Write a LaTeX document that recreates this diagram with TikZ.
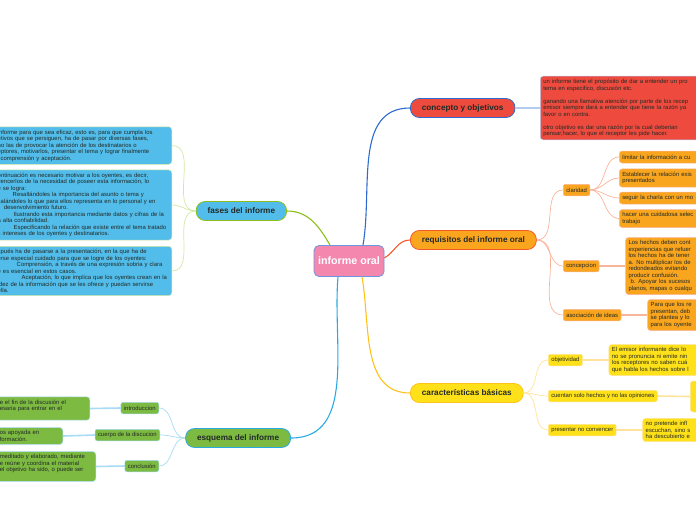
\documentclass[tikz,border=0pt]{standalone}
\usepackage{fontspec}
\setmainfont{Liberation Sans}
\usetikzlibrary{positioning}
\definecolor{mapink}{HTML}{F387AE}
\definecolor{mapred}{HTML}{EE4B3E}
\definecolor{maporange}{HTML}{F9A51E}
\definecolor{mapyellow}{HTML}{FFE119}
\definecolor{mapsky}{HTML}{52BDEA}
\definecolor{mapgreen}{HTML}{7DBA42}
\definecolor{mapblue}{HTML}{2E6BD0}
\definecolor{mapvermil}{HTML}{F4592A}
\definecolor{mapgold}{HTML}{FFC21A}
\definecolor{maplime}{HTML}{8CBF1A}
\definecolor{mapcyan}{HTML}{2AAAE2}
\definecolor{maptext}{HTML}{222A26}
\definecolor{lnblue}{HTML}{B3CCEE}
\definecolor{lnsalmon}{HTML}{F9B49C}
\definecolor{lnyellow}{HTML}{FFE39A}
\definecolor{lnlime}{HTML}{D3E8A5}
\definecolor{lncyan}{HTML}{A6DCF4}
\tikzset{
  font=\fontsize{5.9}{6.5}\selectfont,
  root/.style={draw=mapblue!70,line width=0.8pt,fill=mapink,rounded corners=5pt,
               minimum width=70pt,minimum height=31pt,text=white,
               font=\fontsize{10.7}{12}\selectfont\bfseries},
  topic/.style={line width=0.8pt,rounded corners=9pt,minimum height=19pt,
                inner xsep=11.5pt,text=maptext,font=\fontsize{8.2}{9}\selectfont\bfseries},
  sub/.style={line width=0.5pt,rounded corners=2pt,minimum height=11.5pt,
              inner xsep=3pt,inner ysep=2pt,text=maptext},
  leaf/.style={line width=0.5pt,rounded corners=3pt,inner sep=3pt,align=left,
               text=maptext},
  branch/.style={line width=1.1pt},
  twig/.style={line width=0.7pt},
  stem/.style={line width=1.6pt},
}

\begin{document}
\begin{tikzpicture}[x=1pt,y=1pt,node distance=26pt]
  \useasboundingbox (0,0) rectangle (696,-520);
  \clip (0,0) rectangle (696,-520);

  % ---- central topic ----
  \node[root] (oral) at (349,-261) {informe oral};

  % ---- main topics ----
  \node[topic,draw=mapblue,fill=mapred,anchor=west] (concepto) at (410,-108)
    {concepto y objetivos};
  \node[topic,draw=mapvermil,fill=maporange,anchor=west] (requisitos) at (410,-240)
    {requisitos del informe oral};
  \node[topic,draw=mapgold,fill=mapyellow,anchor=west] (caract) at (410,-393)
    {características básicas};
  \node[topic,draw=maplime,fill=mapsky,anchor=east] (fases) at (287,-211)
    {fases del informe};
  \node[topic,draw=mapcyan,fill=mapgreen,anchor=east] (esquema) at (291,-438)
    {esquema del informe};

  \draw[branch,mapblue] ([xshift=14pt]oral.north) to[out=80,in=180] (concepto.west);
  \draw[branch,mapvermil] ([yshift=3pt]oral.east) to[out=30,in=180] (requisitos.west);
  \draw[branch,mapgold] ([xshift=13pt]oral.south) to[out=-80,in=180] (caract.west);
  \draw[branch,maplime] ([xshift=-19pt]oral.north) to[out=120,in=0] (fases.east);
  \draw[branch,mapcyan] ([xshift=-11pt]oral.south) to[out=-95,in=0] (esquema.east);

  % ---- concepto y objetivos ----
  \node[leaf,draw=lnblue,fill=mapred,text width=170pt,anchor=west] (objtxt) at (540,-108)
    {un informe tiene el propósito de dar a entender un pro\\
     tema en especifico, discusión etc.\\[6.5pt]
     ganando una llamativa atención por parte de los recep\\
     emisor siempre dará a entender que tiene la razón ya\\
     favor o en contra.\\[6.5pt]
     otro objetivo es dar una razón por la cual deberian\\
     pensar,hacer, lo que el receptor les pide hacer.};
  \draw[stem,lnblue] (concepto.east) -- (objtxt.west);

  % ---- requisitos ----
  \node[sub,draw=lnsalmon,fill=maporange,anchor=west] (claridad) at (563,-190) {claridad};
  \node[sub,draw=lnsalmon,fill=maporange,anchor=west] (concepcion) at (563,-266) {concepcion};
  \node[sub,draw=lnsalmon,fill=maporange,anchor=west] (asociacion) at (563,-315) {asociación de ideas};
  \draw[twig,lnsalmon] (requisitos.east) to[out=0,in=180] (claridad.west);
  \draw[twig,lnsalmon] (requisitos.east) to[out=0,in=180] (concepcion.west);
  \draw[twig,lnsalmon] (requisitos.east) to[out=0,in=180] (asociacion.west);

  \node[leaf,draw=lnsalmon,fill=maporange,text width=90pt,minimum height=12pt,anchor=west]
    (clarA) at (619,-157) {limitar la información a cu};
  \node[leaf,draw=lnsalmon,fill=maporange,text width=90pt,anchor=west]
    (clarB) at (619,-178) {Establecer la relación exis\\presentados};
  \node[leaf,draw=lnsalmon,fill=maporange,text width=90pt,minimum height=12pt,anchor=west]
    (clarC) at (619,-198) {seguir la charla con un mo};
  \node[leaf,draw=lnsalmon,fill=maporange,text width=90pt,anchor=west]
    (clarD) at (619,-218.5) {hacer una cuidadosa selec\\trabajo};
  \draw[twig,lnsalmon] (claridad.east) to[out=0,in=180] (clarA.west);
  \draw[twig,lnsalmon] (claridad.east) to[out=0,in=180] (clarB.west);
  \draw[twig,lnsalmon] (claridad.east) to[out=0,in=180] (clarC.west);
  \draw[twig,lnsalmon] (claridad.east) to[out=0,in=180] (clarD.west);

  \node[leaf,draw=lnsalmon,fill=maporange,text width=80pt,right=of concepcion] (conctxt)
    {Los hechos deben cont\\experiencias que refuer\\los hechos ha de tener\\
     a. No multiplicar los de\\redondeados evitando\\producir confusión.\\
     \hspace*{2pt}b. Apoyar los sucesos\\planos, mapas o cualqu};
  \draw[stem,lnsalmon] (concepcion.east) -- (conctxt.west);
  \node[leaf,draw=lnsalmon,fill=maporange,text width=60pt,right=of asociacion] (asoctxt)
    {Para que los re\\presentan, deb\\se plantea y lo\\para los oyente};
  \draw[stem,lnsalmon] (asociacion.east) -- (asoctxt.west);

  % ---- caracteristicas ----
  \node[sub,draw=lnyellow,fill=mapyellow,anchor=west] (objetividad) at (548,-360) {objetividad};
  \node[sub,draw=lnyellow,fill=mapyellow,anchor=west] (hechos) at (548,-396)
    {cuentan solo hechos y no las opiniones};
  \node[sub,draw=lnyellow,fill=mapyellow,anchor=west] (convencer) at (548,-430)
    {presentar no convencer};
  \draw[twig,lnyellow] (caract.east) to[out=0,in=180] (objetividad.west);
  \draw[twig,lnyellow] (caract.east) to[out=0,in=180] (hechos.west);
  \draw[twig,lnyellow] (caract.east) to[out=0,in=180] (convencer.west);

  \node[leaf,draw=lnyellow,fill=mapyellow,text width=95pt,right=of objetividad] (objtvtxt)
    {El emisor informante dice lo\\no se pronuncia ni emite nin\\
     los receptores no saben cuá\\que habla los hechos sobre l};
  \draw[stem,lnyellow] (objetividad.east) -- (objtvtxt.west);
  \node[leaf,draw=lnyellow,fill=mapyellow,minimum width=40pt,minimum height=31pt,
        anchor=west] (hechtxt) at (690,-396.5) {};
  \draw[stem,lnyellow] (hechos.east) -- (hechtxt.west);
  \node[leaf,draw=lnyellow,fill=mapyellow,text width=60pt,right=of convencer] (convtxt)
    {no pretende infl\\escuchan, sino s\\ha descubierto e};
  \draw[stem,lnyellow] (convencer.east) -- (convtxt.west);

  % ---- fases del informe ----
  \node[leaf,draw=lnlime,fill=mapsky,text width=171pt,anchor=east] (faseA) at (172,-145.5)
    {informe para que sea eficaz, esto es, para que cumpla los\\
     etivos que se persiguen, ha de pasar por diversas fases,\\
     no las de provocar la atención de los destinatarios o\\
     eptores, motivarlos, presentar el tema y lograr finalmente\\
     \hspace*{3pt}comprensión y aceptación.};
  \node[leaf,draw=lnlime,fill=mapsky,text width=171pt,anchor=east] (faseB) at (172,-205)
    {ontinuación es necesario motivar a los oyentes, es decir,\\
     vencerlos de la necesidad de poseer esta información, lo\\
     e se logra:\\
     \hspace*{15pt}Resaltándoles la importancia del asunto o tema y\\
     salándoles lo que para ellos representa en lo personal y en\\
     \hspace*{6pt}desenvolvimiento futuro.\\
     \hspace*{16pt}Ilustrando esta importancia mediante datos y cifras de la\\
     a alta confiabilidad.\\
     \hspace*{16pt}Especificando la relación que existe entre el tema tratado\\
     s intereses de los oyentes y destinatarios.};
  \node[leaf,draw=lnlime,fill=mapsky,text width=171pt,anchor=east] (faseC) at (172,-271)
    {spués ha de pasarse a la presentación, en la que ha de\\
     erse especial cuidado para que se logre de los oyentes:\\
     \hspace*{19pt}Comprensión, a través de una expresión sobria y clara\\
     e es esencial en estos casos.\\
     \hspace*{24pt}Aceptación, lo que implica que los oyentes crean en la\\
     idez de la información que se les ofrece y puedan servirse\\
     ella.};
  \draw[twig,lnlime] (fases.west) to[out=180,in=0] (faseA.east);
  \draw[twig,lnlime] (fases.west) to[out=180,in=0] (faseB.east);
  \draw[twig,lnlime] (fases.west) to[out=180,in=0] (faseC.east);

  % ---- esquema del informe ----
  \node[sub,draw=lncyan,fill=mapgreen,anchor=east] (intro) at (159,-408) {introduccion};
  \node[sub,draw=lncyan,fill=mapgreen,anchor=east] (cuerpo) at (160,-435) {cuerpo de la discucion};
  \node[sub,draw=lncyan,fill=mapgreen,anchor=east] (conclusion) at (159,-466) {conclusión};
  \draw[twig,lncyan] (esquema.west) to[out=180,in=0] (intro.east);
  \draw[twig,lncyan] (esquema.west) to[out=180,in=0] (cuerpo.east);
  \draw[twig,lncyan] (esquema.west) to[out=180,in=0] (conclusion.east);

  \node[leaf,draw=lncyan,fill=mapgreen,text width=87pt,anchor=east] (introtxt) at (90,-408.5)
    {e el fin de la discusión el\\esaria para entrar en el\\\mbox{}};
  \node[leaf,draw=lncyan,fill=mapgreen,text width=60pt,anchor=east] (cuerpotxt) at (63,-436)
    {os apoyada en\\formación.};
  \node[leaf,draw=lncyan,fill=mapgreen,text width=93pt,anchor=east] (conctxtB) at (96,-466.5)
    {meditado y elaborado, mediante\\e reúne y coordina el material\\
     el objetivo ha sido, o puede ser\\\mbox{}};
  \draw[stem,lncyan] (intro.west) -- (introtxt.east);
  \draw[stem,lncyan] (cuerpo.west) -- (cuerpotxt.east);
  \draw[stem,lncyan] (conclusion.west) -- (conctxtB.east);
\end{tikzpicture}
\end{document}
